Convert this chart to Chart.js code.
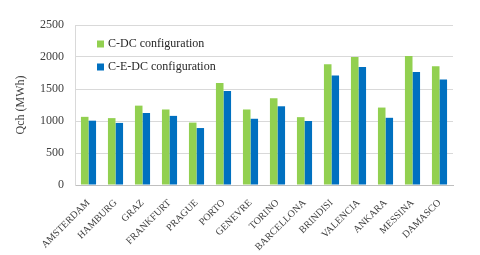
<!DOCTYPE html>
<html>
<head>
<meta charset="utf-8">
<script src="https://cdn.jsdelivr.net/npm/chart.js@4"></script>
<style>
  html, body { margin: 0; padding: 0; background: #fff; }
  #wrap { width: 480px; height: 255px; }
</style>
</head>
<body>
<div id="wrap"><canvas id="chart" width="480" height="255"></canvas></div>
<script>
// ======= Data =======
const cities = ["AMSTERDAM", "HAMBURG", "GRAZ", "FRANKFURT", "PRAGUE", "PORTO", "GENEVRE",
                "TORINO", "BARCELLONA", "BRINDISI", "VALENCIA", "ANKARA", "MESSINA", "DAMASCO"];
const cdc  = [1065, 1045, 1240, 1180, 975, 1595, 1180, 1355, 1060, 1885, 2000, 1210, 2015, 1855];
const cedc = [1005, 970, 1125, 1080, 890, 1470, 1035, 1230, 1000, 1710, 1845, 1050, 1765, 1650];
const yTicks = [0, 500, 1000, 1500, 2000, 2500];

const GREEN = "#92D050";
const BLUE  = "#0070C0";
const serif = "'Liberation Serif', 'Times New Roman', serif";

// legend drawn inside the plot, top-left
const innerLegend = {
  id: "innerLegend",
  afterDraw(chart) {
    const ctx = chart.ctx;
    const x0 = chart.chartArea.left + 22;
    ctx.save();
    ctx.font = "12px " + serif;
    ctx.textBaseline = "middle";
    chart.data.datasets.forEach((ds, i) => {
      const cy = 44 + i * 23;
      ctx.fillStyle = ds.backgroundColor;
      ctx.fillRect(x0, cy - 3.5, 7, 7);
      ctx.fillStyle = "#262626";
      ctx.fillText(ds.label, x0 + 11, cy);
    });
    ctx.restore();
  }
};

new Chart(document.getElementById("chart"), {
  type: "bar",
  data: {
    labels: cities,
    datasets: [
      { label: "C-DC configuration", data: cdc, backgroundColor: GREEN },
      { label: "C-E-DC configuration", data: cedc, backgroundColor: BLUE }
    ]
  },
  options: {
    responsive: false,
    animation: false,
    layout: { padding: { top: 25, right: 27, left: 0, bottom: 0 } },
    datasets: { bar: { categoryPercentage: 0.56, barPercentage: 1 } },
    plugins: { legend: { display: false }, tooltip: { enabled: false } },
    scales: {
      x: {
        grid: { display: false },
        border: { display: true, color: "#bfbfbf" },
        ticks: {
          autoSkip: false, minRotation: 45, maxRotation: 45, padding: 4,
          color: "#404040", font: { family: serif, size: 10 }
        },
        afterFit: s => { s.height = 70; }
      },
      y: {
        min: 0, max: 2500,
        afterBuildTicks: s => { s.ticks = yTicks.map(v => ({ value: v })); },
        grid: { color: "#d9d9d9", drawTicks: false },
        border: { display: true, color: "#d9d9d9" },
        ticks: {
          padding: 11, color: "#404040", font: { family: serif, size: 12 },
          callback: v => String(v)
        },
        title: {
          display: true, text: "Qch (MWh)", color: "#404040",
          font: { family: serif, size: 12 }, padding: { top: 14, bottom: 0 }
        },
        afterFit: s => { s.width = 75; }
      }
    }
  },
  plugins: [innerLegend]
});
</script>
</body>
</html>
